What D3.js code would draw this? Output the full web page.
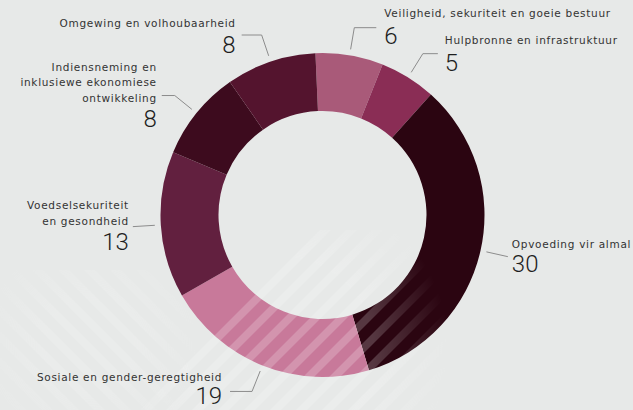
<!DOCTYPE html>
<html>
<head>
<meta charset="utf-8">
<script src="https://cdn.jsdelivr.net/npm/d3@7"></script>
<style>
  html, body { margin: 0; padding: 0; background: #e7e9e8; }
  svg { display: block; }
</style>
</head>
<body>
<svg id="chart" width="633" height="410"></svg>
<script>
// ---- data ----
const categories = [
  ["Veiligheid, sekuriteit en goeie bestuur"],
  ["Hulpbronne en infrastruktuur"],
  ["Opvoeding vir almal"],
  ["Sosiale en gender-geregtigheid"],
  ["Voedselsekuriteit", "en gesondheid"],
  ["Indiensneming en", "inklusiewe ekonomiese", "ontwikkeling"],
  ["Omgewing en volhoubaarheid"]
];
const values = [6, 5, 30, 19, 13, 8, 8];
const colors = ["#a95a79", "#8a2d55", "#2b0511", "#c8799a", "#62203f", "#3d0b1e", "#54142e"];

// ---- layout (per label: horizontal leader length, side, text offsets) ----
const labelLayout = [
  { hook: 22,  anchor: "start", tx: 8,  ty: -11, ny: 27 },
  { hook: 15,  anchor: "start", tx: 7,  ty: -10, ny: 27 },
  { hook: 0,   anchor: "start", tx: 4,  ty: -9,  ny: 24 },
  { hook: -22, anchor: "end",   tx: -8, ty: -10, ny: 23 },
  { hook: 0,   anchor: "end",   tx: -4, ty: -2,  ny: 25 },
  { hook: -13, anchor: "end",   tx: -5, ty: 6,   ny: 25 },
  { hook: -20, anchor: "end",   tx: -6, ty: -8,  ny: 26 }
];

const W = 633, H = 410;
const cx = 322.5, cy = 215;
const rOuter = 162, rInner = 104;
const startDeg = -2.5;

const svg = d3.select("#chart");
svg.append("rect").attr("width", W).attr("height", H).attr("fill", "#e7e9e8");

const g = svg.append("g").attr("transform", `translate(${cx},${cy})`);

const start = startDeg * Math.PI / 180;
const pie = d3.pie().sort(null).value(d => d)
  .startAngle(start).endAngle(start + 2 * Math.PI);
const arcs = pie(values);

const arc = d3.arc().innerRadius(rInner).outerRadius(rOuter);
g.selectAll("path.slice").data(arcs).join("path")
  .attr("class", "slice")
  .attr("d", arc)
  .attr("fill", (d, i) => colors[i]);

// decorative watermark stripes (faded with a mask)
const defs = svg.append("defs");
const grad = defs.append("radialGradient").attr("id", "fade")
  .attr("gradientUnits", "userSpaceOnUse")
  .attr("cx", 280).attr("cy", 350).attr("r", 170);
grad.append("stop").attr("offset", "0%").attr("stop-color", "#fff");
grad.append("stop").attr("offset", "55%").attr("stop-color", "#fff");
grad.append("stop").attr("offset", "100%").attr("stop-color", "#000");
const mask = defs.append("mask").attr("id", "stripeMask")
  .attr("maskUnits", "userSpaceOnUse").attr("x", 0).attr("y", 0).attr("width", W).attr("height", H);
mask.append("rect").attr("width", W).attr("height", H).attr("fill", "url(#fade)");

const grad2 = defs.append("radialGradient").attr("id", "fade2")
  .attr("gradientUnits", "userSpaceOnUse")
  .attr("cx", 90).attr("cy", 345).attr("r", 110);
grad2.append("stop").attr("offset", "0%").attr("stop-color", "#fff");
grad2.append("stop").attr("offset", "40%").attr("stop-color", "#fff");
grad2.append("stop").attr("offset", "100%").attr("stop-color", "#000");
const mask2 = defs.append("mask").attr("id", "stripeMask2")
  .attr("maskUnits", "userSpaceOnUse").attr("x", 0).attr("y", 0).attr("width", W).attr("height", H);
mask2.append("rect").attr("width", W).attr("height", H).attr("fill", "url(#fade2)");

const sA = svg.append("g").attr("fill", "#ffffff").attr("opacity", 0.2).attr("mask", "url(#stripeMask)");
for (let k = 0; k < 16; k++) {
  const o = 120 + k * 26;
  sA.append("polygon").attr("points", `${o},430 ${o + 11},430 ${o + 211},230 ${o + 200},230`);
}
const sB = svg.append("g").attr("fill", "#ffffff").attr("opacity", 0.14).attr("mask", "url(#stripeMask2)");
for (let k = 0; k < 12; k++) {
  const o = -150 + k * 26;
  sB.append("polygon").attr("points", `${o},270 ${o + 11},270 ${o + 151},410 ${o + 140},410`);
}

// ---- labels ----
const rA = 168, rB = 190;
const lab = svg.append("g").attr("transform", `translate(${cx},${cy})`);
arcs.forEach((a, i) => {
  const m = (a.startAngle + a.endAngle) / 2;
  const p0 = [Math.sin(m) * rA, -Math.cos(m) * rA];
  const p1 = [Math.sin(m) * rB, -Math.cos(m) * rB];
  const L = labelLayout[i];
  const p2 = [p1[0] + L.hook, p1[1]];
  lab.append("polyline")
    .attr("points", [p0, p1, p2].map(p => p.join(",")).join(" "))
    .attr("fill", "none").attr("stroke", "#8c8c8c").attr("stroke-width", 1);
  const lines = categories[i];
  const tx = p2[0] + L.tx;
  const lastY = p2[1] + L.ty;
  lines.forEach((t, j) => {
    lab.append("text")
      .attr("x", tx).attr("y", lastY - (lines.length - 1 - j) * 15.5)
      .attr("text-anchor", L.anchor)
      .attr("font-family", "DejaVu Sans, sans-serif")
      .attr("font-size", 10.5)
      .attr("letter-spacing", 0.7)
      .attr("fill", "#333333")
      .text(t);
  });
  lab.append("text")
    .attr("x", tx).attr("y", lastY + L.ny)
    .attr("text-anchor", L.anchor)
    .attr("font-family", "Roboto, sans-serif")
    .attr("font-weight", 300)
    .attr("font-size", 24)
    .attr("fill", "#1e1e1e")
    .text(values[i]);
});
</script>
</body>
</html>
